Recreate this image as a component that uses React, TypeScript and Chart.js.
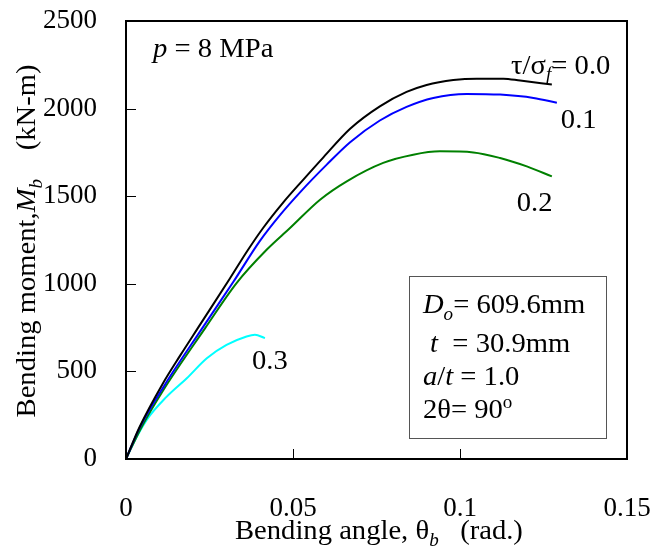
import React, { useEffect, useRef } from "react";
import { Chart, registerables } from "chart.js";

Chart.register(...registerables);

// ---- data (bending angle in rad., bending moment in kN-m) ----
const xTicks = [0, 0.05, 0.1, 0.15];
const yTicks = [0, 500, 1000, 1500, 2000, 2500];

const tau00X = [0, 0.004, 0.011, 0.0162, 0.0216, 0.0311, 0.0364, 0.0411, 0.0471, 0.0531, 0.0591, 0.0671, 0.076, 0.084, 0.09, 0.098, 0.105, 0.113, 0.118, 0.1275];
const tau00Y = [0, 180, 430, 590, 750, 1030, 1190, 1320, 1465, 1595, 1722, 1885, 2013, 2095, 2135, 2163, 2171, 2171, 2160, 2137];

const tau01X = [0, 0.004, 0.0115, 0.0226, 0.0321, 0.0401, 0.0461, 0.0521, 0.0601, 0.0671, 0.076, 0.084, 0.092, 0.102, 0.112, 0.122, 0.129];
const tau01Y = [0, 175, 420, 740, 1010, 1245, 1392, 1522, 1680, 1808, 1932, 2010, 2061, 2084, 2080, 2061, 2033];

const tau02X = [0, 0.0042, 0.0112, 0.0237, 0.0331, 0.0421, 0.0491, 0.0581, 0.0661, 0.077, 0.086, 0.094, 0.104, 0.112, 0.12, 0.1275];
const tau02Y = [0, 166, 394, 747, 1004, 1194, 1318, 1480, 1585, 1690, 1737, 1756, 1750, 1718, 1670, 1613];

const tau03X = [0, 0.0012, 0.0062, 0.0122, 0.0182, 0.0242, 0.0301, 0.0361, 0.0386, 0.0416];
const tau03Y = [0, 51, 223, 356, 461, 575, 651, 699, 709, 690];

const seriesColors = ["#000000", "#0000ff", "#008000", "#00ffff"];

const SERIF = '"Liberation Serif", "Times New Roman", serif';

type Run = { t: string; i?: boolean; sub?: boolean; sup?: boolean };

function runFont(r: Run, size: number) {
  const s = r.sub || r.sup ? Math.round(size * 0.68) : size;
  return `${r.i ? "italic " : ""}${s}px ${SERIF}`;
}

function runsWidth(ctx: CanvasRenderingContext2D, runs: Run[], size: number) {
  let w = 0;
  for (const r of runs) {
    ctx.font = runFont(r, size);
    w += ctx.measureText(r.t).width;
  }
  return w;
}

function drawRuns(
  ctx: CanvasRenderingContext2D,
  x: number,
  y: number,
  runs: Run[],
  size: number,
  sx = 1.06,
  align: "left" | "center" = "left"
) {
  ctx.save();
  ctx.translate(x, y);
  ctx.scale(sx, 1);
  let cx = align === "center" ? -runsWidth(ctx, runs, size) / 2 : 0;
  ctx.textAlign = "left";
  ctx.textBaseline = "alphabetic";
  for (const r of runs) {
    ctx.font = runFont(r, size);
    const dy = r.sub ? size * 0.25 : r.sup ? -size * 0.38 : 0;
    ctx.fillText(r.t, cx, dy);
    cx += ctx.measureText(r.t).width;
  }
  ctx.restore();
}

const decorPlugin = {
  id: "decor",
  afterDatasetsDraw(chart: any) {
    const ctx: CanvasRenderingContext2D = chart.ctx;
    const { left, right, top, bottom } = chart.chartArea;
    const xs = chart.scales.x;
    const ys = chart.scales.y;
    ctx.save();
    ctx.fillStyle = "#000";
    ctx.strokeStyle = "#000";
    // inward tick marks
    ctx.lineWidth = 1;
    ctx.beginPath();
    for (const v of yTicks) {
      const py = Math.round(ys.getPixelForValue(v)) + 0.5;
      ctx.moveTo(left, py);
      ctx.lineTo(left + 10, py);
    }
    for (const v of xTicks) {
      const px = Math.round(xs.getPixelForValue(v)) + 0.5;
      ctx.moveTo(px, bottom);
      ctx.lineTo(px, bottom - 10);
    }
    ctx.stroke();
    // frame
    ctx.lineWidth = 2;
    ctx.strokeRect(left, top, right - left, bottom - top);

    // parameter box
    const bx1 = xs.getPixelForValue(0.0847);
    const bx2 = xs.getPixelForValue(0.1437);
    const by1 = ys.getPixelForValue(1046);
    const by2 = ys.getPixelForValue(120);
    ctx.lineWidth = 1;
    ctx.strokeStyle = "#555";
    ctx.strokeRect(Math.round(bx1) + 0.5, Math.round(by1) + 0.5, Math.round(bx2 - bx1), Math.round(by2 - by1));

    const fs = 27;
    const P = (x: number, y: number) => [xs.getPixelForValue(x), ys.getPixelForValue(y)];
    let [px, py] = P(0.0081, 2297);
    drawRuns(ctx, px, py, [{ t: "p", i: true }, { t: " = 8 MPa" }], fs);
    [px, py] = P(0.1153, 2200);
    drawRuns(ctx, px, py, [{ t: "τ/σ" }, { t: "f", i: true, sub: true }, { t: "= 0.0" }], fs);
    [px, py] = P(0.1302, 1891);
    drawRuns(ctx, px, py, [{ t: "0.1" }], fs);
    [px, py] = P(0.117, 1417);
    drawRuns(ctx, px, py, [{ t: "0.2" }], fs);
    [px, py] = P(0.0377, 514);
    drawRuns(ctx, px, py, [{ t: "0.3" }], fs);

    const bl = xs.getPixelForValue(0.0889);
    drawRuns(ctx, bl, ys.getPixelForValue(834), [{ t: "D", i: true }, { t: "o", i: true, sub: true }, { t: "= 609.6mm" }], fs);
    drawRuns(ctx, bl, ys.getPixelForValue(611), [{ t: " " }, { t: "t", i: true }, { t: "  = 30.9mm" }], fs);
    drawRuns(ctx, bl, ys.getPixelForValue(423), [{ t: "a", i: true }, { t: "/" }, { t: "t", i: true }, { t: " = 1.0" }], fs);
    drawRuns(ctx, bl, ys.getPixelForValue(234), [{ t: "2θ= 90" }, { t: "o", sup: true }], fs);

    // axis titles
    drawRuns(ctx, 235, 539, [{ t: "Bending angle, θ" }, { t: "b", i: true, sub: true }, { t: "   (rad.)" }], fs);
    ctx.save();
    ctx.translate(35, 241);
    ctx.rotate(-Math.PI / 2);
    drawRuns(ctx, 0, 0, [{ t: "Bending moment," }, { t: "M", i: true }, { t: "b", i: true, sub: true }, { t: "    (kN-m)" }], fs, 1.06, "center");
    ctx.restore();
    ctx.restore();
  },
};

function pts(xs: number[], ys: number[]) {
  return xs.map((x, i) => ({ x, y: ys[i] }));
}

export default function App() {
  const ref = useRef<HTMLCanvasElement | null>(null);
  useEffect(() => {
    document.body.style.margin = "0";
    const canvas = ref.current!;
    const mk = (label: string, xs: number[], ys: number[], c: string) => ({
      label,
      data: pts(xs, ys),
      borderColor: c,
      backgroundColor: c,
      borderWidth: 2,
      pointRadius: 0,
      showLine: true,
      cubicInterpolationMode: "monotone",
      fill: false,
    });
    const zeroPad = (s: any) => {
      s.paddingTop = 0;
      s.paddingBottom = 0;
      s.paddingLeft = 0;
      s.paddingRight = 0;
    };
    const chart = new Chart(canvas, {
      type: "scatter",
      data: {
        datasets: [
          mk("0.0", tau00X, tau00Y, seriesColors[0]),
          mk("0.1", tau01X, tau01Y, seriesColors[1]),
          mk("0.2", tau02X, tau02Y, seriesColors[2]),
          mk("0.3", tau03X, tau03Y, seriesColors[3]),
        ],
      },
      options: {
        responsive: false,
        animation: false,
        devicePixelRatio: 1,
        layout: { padding: { top: 21, right: 25, left: 0, bottom: 0 } },
        plugins: { legend: { display: false }, tooltip: { enabled: false } },
        scales: {
          x: {
            type: "linear",
            min: 0,
            max: 0.15,
            afterBuildTicks: (s: any) => {
              s.ticks = xTicks.map((v) => ({ value: v }));
            },
            afterFit: (s: any) => {
              s.height = 100;
              zeroPad(s);
            },
            grid: { display: false, drawTicks: false },
            border: { display: false },
            ticks: {
              color: "#000",
              padding: 34,
              font: { family: SERIF, size: 27 },
              callback: (v: any) => String(v),
            },
          },
          y: {
            type: "linear",
            min: 0,
            max: 2500,
            afterBuildTicks: (s: any) => {
              s.ticks = yTicks.map((v) => ({ value: v }));
            },
            afterFit: (s: any) => {
              s.width = 126;
              zeroPad(s);
            },
            grid: { display: false, drawTicks: false },
            border: { display: false },
            ticks: {
              color: "#000",
              padding: 29,
              font: { family: SERIF, size: 27 },
              callback: (v: any) => String(v),
            },
          },
        },
      },
      plugins: [decorPlugin],
    } as any);
    return () => chart.destroy();
  }, []);
  return <canvas ref={ref} width={652} height={559} style={{ display: "block" }} />;
}
